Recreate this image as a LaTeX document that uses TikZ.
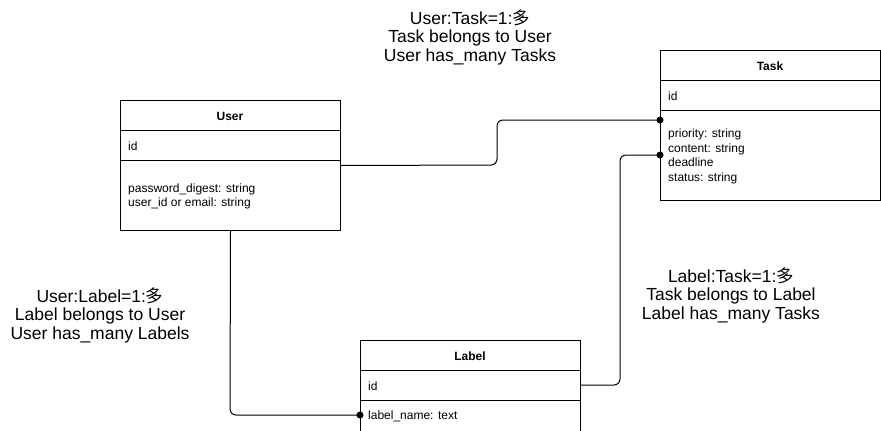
\documentclass[tikz,border=0pt]{standalone}
\usepackage{fontspec}
\setmainfont{Liberation Sans}
\newfontfamily\cjk{Noto Sans CJK JP}
\begin{document}
\begin{tikzpicture}[x=1pt,y=-1pt,
  box/.style={draw, line width=1pt, minimum width=220pt, inner sep=0pt, anchor=north west},
  rowline/.style={line width=1pt},
  title/.style={font=\fontsize{12}{14.5}\selectfont\bfseries, inner sep=0pt},
  field/.style={font=\fontsize{12}{14.5}\selectfont, inner sep=0pt, anchor=west, align=left},
  note/.style={font=\fontsize{17.5}{18.5}\selectfont, align=center, inner sep=0pt},
  conn/.style={line width=1pt, rounded corners=6pt},
  dot/.style={fill=black}]
\useasboundingbox (0,0) rectangle (881,431);
\clip (0,0) rectangle (881,431);
% User
\node[box, minimum height=130pt] (user) at (120,100) {};
\draw[rowline] (120,130) -- (340,130) (120,160) -- (340,160);
\node[title] (userT) at (230,116) {User};
\node[field] (userId) at (128,146) {id};
\node[field] (userF) at (128,196.5) {password\_digest: string\\user\_id or email: string};
% Task
\node[box, minimum height=150pt] (task) at (660,50) {};
\draw[rowline] (660,80) -- (880,80) (660,110) -- (880,110);
\node[title] (taskT) at (770,66) {Task};
\node[field] (taskId) at (668,96) {id};
\node[field] (taskF) at (668,156.5) {priority: string\\content: string\\deadline\\status: string};
% Label
\node[box, minimum height=100pt] (label) at (360,340) {};
\draw[rowline] (360,370) -- (580,370) (360,400) -- (580,400);
\node[title] (labelT) at (470,356) {Label};
\node[field] (labelId) at (368,386) {id};
\node[field] (labelF) at (368,416) {label\_name: text};
% anchor points
\coordinate (t1) at (660,120);
\coordinate (t2) at (660,155);
\coordinate (l1) at (580,385);
\coordinate (l2) at (360,415);
% connectors
\draw[conn] (user.east) -- (497,165) -- (497,120) -- (t1);
\fill[dot] (t1) circle (3.5);
\draw[conn] (t2) -- (620,155) -- (620,385) -- (l1);
\fill[dot] (t2) circle (3.5);
\draw[conn] (user.south) -- (230,415) -- (l2);
\fill[dot] (l2) circle (3.5);
% notes
\node[note] (n1) at (470,37) {User:Task=1:{\cjk 多}\\Task belongs to User\\User has\_many Tasks};
\node[note] (n2) at (731,295) {Label:Task=1:{\cjk 多}\\Task belongs to Label\\Label has\_many Tasks};
\node[note] (n3) at (100,315) {User:Label=1:{\cjk 多}\\Label belongs to User\\User has\_many Labels};
\end{tikzpicture}
\end{document}
